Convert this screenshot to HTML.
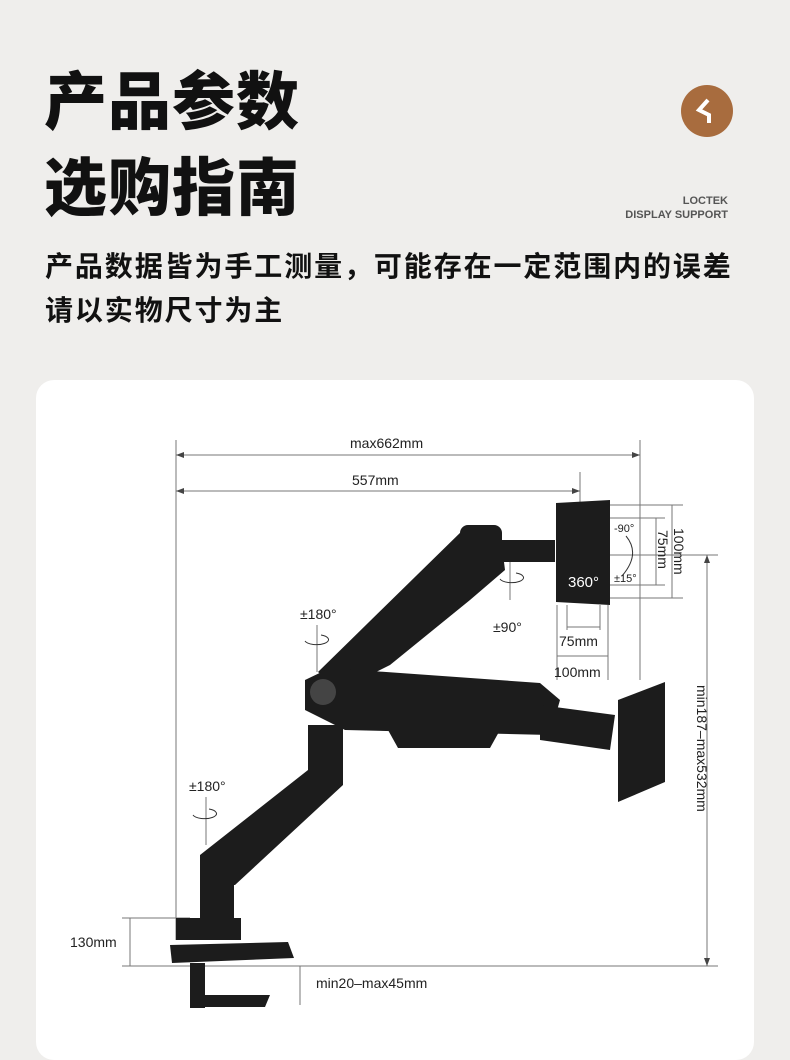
<!DOCTYPE html>
<html><head><meta charset="utf-8"><style>
body{margin:0;width:790px;height:1038px;background:#efeeec;overflow:hidden;position:relative;font-family:"Liberation Sans","Noto Sans CJK SC",sans-serif}
.t{position:absolute;left:44px;font-weight:900;font-size:63px;color:#111;letter-spacing:1px;line-height:1}
.s{position:absolute;left:45px;font-weight:700;font-size:28px;color:#111;line-height:1;letter-spacing:1.9px}
.card{position:absolute;left:36px;top:380px;width:718px;height:680px;background:#fff;border-radius:18px}
</style></head><body>
<div class="t" style="top:72px">产品参数</div>
<div class="t" style="top:158px">选购指南</div>
<div class="s" style="top:253px">产品数据皆为手工测量，可能存在一定范围内的误差</div>
<div class="s" style="top:297px">请以实物尺寸为主</div>
<div style="position:absolute;left:681px;top:85px;width:52px;height:52px;border-radius:50%;background:#a86c3e"></div>
<svg style="position:absolute;left:681px;top:85px" width="52" height="52"><polyline points="27,15 18,25 28,30 28,38" fill="none" stroke="#fff" stroke-width="4"/></svg>
<div style="position:absolute;right:62px;top:194px;text-align:right;font-size:11px;font-weight:700;color:#555;line-height:14px">LOCTEK<br>DISPLAY SUPPORT</div>
<div class="card"></div>
<svg style="position:absolute;left:0;top:0" width="790" height="1038" font-family="Liberation Sans,sans-serif" font-size="14" fill="#222">
<g stroke="#777" stroke-width="1" fill="none">
<line x1="176" y1="440" x2="176" y2="940"/><line x1="640" y1="440" x2="640" y2="680"/>
<line x1="176" y1="455" x2="640" y2="455"/><line x1="176" y1="491" x2="580" y2="491"/>
<line x1="580" y1="472" x2="580" y2="505"/>
<line x1="610" y1="505" x2="683" y2="505"/><line x1="610" y1="518" x2="665" y2="518"/>
<line x1="610" y1="585" x2="665" y2="585"/><line x1="610" y1="598" x2="683" y2="598"/>
<line x1="656" y1="518" x2="656" y2="585"/><line x1="672" y1="505" x2="672" y2="598"/>
<line x1="580" y1="555" x2="718" y2="555"/><line x1="707" y1="555" x2="707" y2="966"/>
<line x1="557" y1="605" x2="557" y2="680"/><line x1="608" y1="605" x2="608" y2="680"/><line x1="567" y1="605" x2="567" y2="630"/><line x1="600" y1="605" x2="600" y2="630"/>
<line x1="567" y1="627" x2="600" y2="627"/><line x1="557" y1="656" x2="608" y2="656"/>
<line x1="122" y1="918" x2="190" y2="918"/><line x1="122" y1="966" x2="718" y2="966"/>
<line x1="130" y1="918" x2="130" y2="966"/><line x1="300" y1="966" x2="300" y2="1005"/>
<line x1="317" y1="625" x2="317" y2="672"/><line x1="206" y1="797" x2="206" y2="845"/><line x1="510" y1="560" x2="510" y2="600"/>
</g>
<g stroke="#333" stroke-width="1" fill="none">
<path d="M305 641a12 5 0 1 0 16-6"/><path d="M193 815a12 5 0 1 0 16-6"/><path d="M500 579a12 5 0 1 0 16-6"/>
<path d="M626 536q15 18 -4 40"/>
</g>
<g fill="#444">
<path d="M176 455l8-3v6z"/><path d="M640 455l-8-3v6z"/><path d="M176 491l8-3v6z"/><path d="M580 491l-8-3v6z"/>
<path d="M707 555l-3 8h6z"/><path d="M707 966l-3-8h6z"/>
</g>
<text x="350" y="448">max662mm</text><text x="352" y="485">557mm</text>
<text x="300" y="619">±180°</text><text x="189" y="791">±180°</text><text x="493" y="632">±90°</text>
<text x="559" y="646">75mm</text><text x="554" y="677">100mm</text>
<text x="70" y="947">130mm</text><text x="316" y="988">min20–max45mm</text>
<text x="614" y="532" font-size="11">-90°</text><text x="614" y="582" font-size="11">±15°</text>
<text transform="translate(674,528) rotate(90)">100mm</text><text transform="translate(658,530) rotate(90)">75mm</text>
<text transform="translate(697,685) rotate(90)">min187–max532mm</text>
<g fill="#1c1c1c">
<path d="M176 918h65v22h-65z"/><path d="M200 880h34v40h-34z"/>
<path d="M170 945l118-3 6 16-122 5z"/><path d="M190 963h15v45h-15z"/><path d="M190 995h80l-5 12h-75z"/>
<path d="M200 885L200 855L308 770L308 725L343 725L343 785L235 885z"/>
<path d="M318 672L465 528L500 530L505 570L470 600L390 665L340 690z"/>
<path d="M305 680L330 668L540 683L560 700L550 735L345 730L305 710z"/>
<path d="M388 730h112l-10 18h-92z"/>
<rect x="460" y="525" width="42" height="45" rx="8"/>
<path d="M487 540h68v22h-68z"/><path d="M540 705l75 10 -5 35-70-10z"/>
<path d="M556 503l54-3v105l-54-3z"/><path d="M618 700l47-18v100l-47 20z"/>
</g>
<circle cx="323" cy="692" r="13" fill="#444"/>
<g fill="#fff" font-size="15"><text x="568" y="587">360°</text></g>
</svg>
</body></html>
